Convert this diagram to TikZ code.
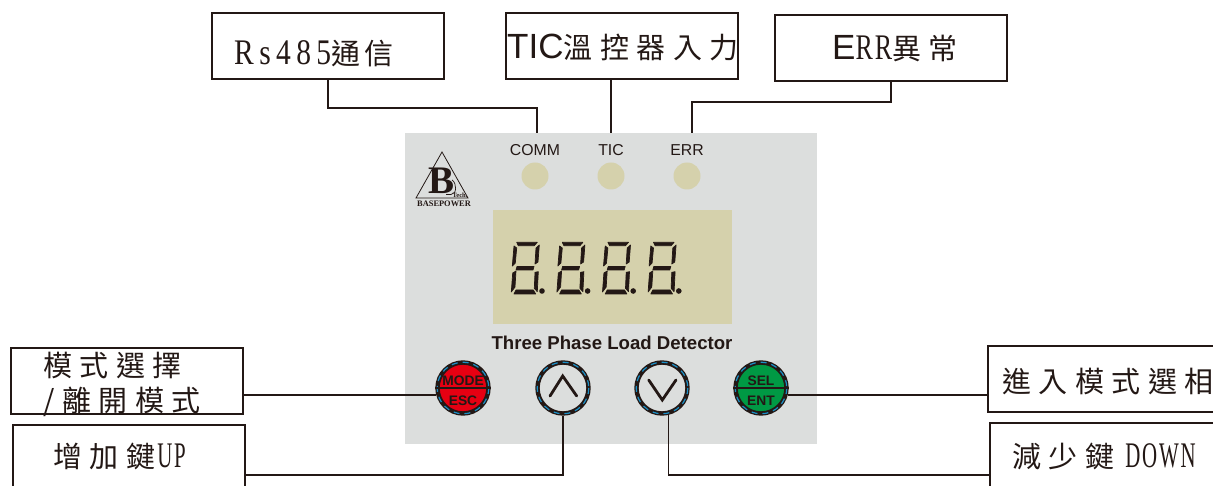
\documentclass[tikz,border=0pt]{standalone}
\usepackage{fontspec}
\setmainfont{Liberation Sans}
\newfontfamily\cjkfont[LetterSpace=26]{Noto Sans CJK TC}
\newfontfamily\cjktight[LetterSpace=15]{Noto Sans CJK TC}
\newfontfamily\latnfont[FakeStretch=0.82,LetterSpace=15]{Liberation Serif}
\newfontfamily\latnnarrow[FakeStretch=0.72,LetterSpace=6]{Liberation Serif}
\newfontfamily\latnthin[FakeStretch=0.58,LetterSpace=5]{Liberation Serif}
\newfontfamily\logofont{Liberation Serif}
\newcommand{\cjksize}{\fontsize{29}{30}\selectfont}
\newcommand{\latnsize}{\fontsize{36}{40}\selectfont}
\newcommand{\smallsize}{\fontsize{15.8}{18}\selectfont}
\definecolor{inkblack}{HTML}{231815}
\definecolor{panelgray}{HTML}{DCDEDD}
\definecolor{lcdyellow}{HTML}{D5D1AC}
\definecolor{btnred}{HTML}{E60012}
\definecolor{btngreen}{HTML}{009944}
\definecolor{rimblue}{HTML}{1B8FC6}
\tikzset{
    callout/.style={draw=inkblack, line width=1.3pt, fill=white, minimum width=232pt, minimum height=66pt, inner sep=0pt, outer sep=0pt},
    calltext/.style={anchor=base west, inner sep=0pt, text=inkblack},
    wire/.style={draw=inkblack, line width=1.4pt},
    ledlamp/.style={circle, fill=lcdyellow, minimum size=27pt, inner sep=0pt},
    ledtext/.style={inner sep=0pt, text=inkblack, font=\smallsize},
    button/.style={circle, draw=inkblack, line width=4.4pt, minimum size=51pt, inner sep=0pt, outer sep=2.2pt},
    rim/.style={draw=rimblue, line width=1.2pt, dash pattern=on 6pt off 5pt},
    btntext/.style={inner sep=0pt, text=inkblack, font=\bfseries\fontsize{13.8}{15}\selectfont},
    chevron/.style={draw=inkblack, line width=2.8pt, line cap=round, line join=miter},
    segment/.style={fill=inkblack, draw=inkblack, line width=0.7pt, line join=round}
}
\begin{document}
\begin{tikzpicture}[x=1pt, y=-1pt]
    \useasboundingbox (0,0) rectangle (1213,486);

    % panel and display
    \fill[panelgray] (405,133) rectangle (817,444);
    \fill[lcdyellow] (493,210) rectangle (732,324);

    % logo
    \draw[inkblack, line width=0.8pt] (442,152) -- (416,198) -- (468,198) -- cycle;
    \node[inner sep=0pt, text=inkblack] (logob) at (442,181) {\logofont\bfseries\fontsize{39}{40}\selectfont B};
    \draw[inkblack, line width=0.7pt] (446,194.5) -- (451,194.5) .. controls (457,194.5) and (457,183) .. (452,180);
    \node[inner sep=0pt, text=inkblack] (logotech) at (460,195) {\logofont\bfseries\fontsize{6.5}{7}\selectfont Tech.};
    \node[inner sep=0pt, text=inkblack] (logoname) at (444,204) {\logofont\bfseries\fontsize{8.4}{9}\selectfont BASEPOWER};

    % four digits
    \foreach \Shift in {0,45.6,91.2,136.8}{
        \begin{scope}[xshift=\Shift pt]
            \path[segment] (516.7,242.3) -- (537.3,242.3) -- (534.3,245.7) -- (518.3,245.7) -- cycle;
            \path[segment] (514,246) -- (516.7,248) -- (515.3,263) -- (512.3,266) -- cycle;
            \path[segment] (539.3,245) -- (538,262) -- (535,264) -- (536,248) -- cycle;
            \path[segment] (517,266.5) -- (534,266.5) -- (533,270) -- (516,270) -- cycle;
            \path[segment] (512.7,273) -- (516,271) -- (515,287) -- (511.3,292) -- cycle;
            \path[segment] (535,272.3) -- (538.3,271.7) -- (537.3,291.7) -- (534.3,288.3) -- cycle;
            \path[segment] (516,290) -- (533.3,290) -- (535.7,294) -- (514,294) -- cycle;
            \fill[inkblack] (542,291) circle (2.8);
        \end{scope}
    }

    % lamps
    \node[ledlamp] (ledcomm) at (535,176) {};
    \node[ledlamp] (ledtic) at (611,176) {};
    \node[ledlamp] (lederr) at (687,176) {};
    \node[ledtext] (txtcomm) at (535,150) {COMM};
    \node[ledtext] (txttic) at (611,150) {TIC};
    \node[ledtext] (txterr) at (687,150) {ERR};
    \node[inner sep=0pt, text=inkblack, font=\bfseries\fontsize{18.6}{20}\selectfont] (title) at (612,343) {Three Phase Load Detector};

    % buttons
    \node[button, fill=btnred] (btnmode) at (463,388) {};
    \node[button, fill=panelgray] (btnup) at (563,388) {};
    \node[button, fill=panelgray] (btndown) at (662,388) {};
    \node[button, fill=btngreen] (btnsel) at (761,388) {};
    \foreach \Name in {btnmode,btnup,btndown,btnsel}{
        \draw[rim] (\Name) circle (25.8);
    }
    \draw[inkblack, line width=1.1pt] (btnmode.west) -- (btnmode.east);
    \draw[inkblack, line width=1.1pt] (btnsel.west) -- (btnsel.east);
    \node[btntext] (txtmode) at (463,380.5) {MODE};
    \node[btntext] (txtesc) at (463,400.5) {ESC};
    \node[btntext] (txtsel) at (761,380.5) {SEL};
    \node[btntext] (txtent) at (761,400.5) {ENT};
    \draw[chevron] (550,396) -- (562.7,376) -- (576.7,396);
    \draw[chevron] (648.7,380) -- (662.3,400) -- (676,380);

    % boxes
    \node[callout] (boxcomm) at (328,46) {};
    \node[callout] (boxtic) at (622,46) {};
    \node[callout] (boxerr) at (891,48) {};
    \node[callout] (boxmode) at (127,381) {};
    \node[callout, minimum height=100pt] (boxup) at (129,475) {};
    \node[callout] (boxsel) at (1104,379) {};
    \node[callout, minimum height=104pt] (boxdown) at (1106,475) {};

    % box texts
    \node[calltext] (lblcomm) at (234,65) {\latnsize\latnfont Rs485\cjksize\cjktight 通信};
    \node[calltext] (lbltic) at (507,59) {\fontsize{35}{40}\selectfont TIC\cjksize\cjkfont 溫控器入力};
    \node[calltext] (lblerr) at (832,60) {\fontsize{35}{40}\selectfont E\latnsize\latnnarrow RR\cjksize\cjkfont 異常};
    \node[calltext] (lblmode) at (43,376) {\cjksize\cjkfont 模式選擇};
    \node[calltext] (lblesc) at (43,411) {\cjksize\cjkfont /離開模式};
    \node[calltext] (lblup) at (53,467) {\cjksize\cjkfont 增加鍵\hspace{2pt}\latnsize\latnthin UP};
    \node[calltext] (lblsel) at (1002,392) {\cjksize\cjkfont 進入模式選相};
    \node[calltext] (lbldown) at (1012,467) {\cjksize\cjkfont 減少鍵\hspace{11pt}\latnsize\latnthin DOWN};

    % connectors
    \coordinate (endcomm) at (537,133);
    \coordinate (endtic) at (611,133);
    \coordinate (enderr) at (692,133);
    \draw[wire] (boxcomm.south) -- ++(0,29) -| (endcomm);
    \draw[wire] (boxtic.south -| endtic) -- (endtic);
    \draw[wire] (boxerr.south) -- ++(0,21) -| (enderr);
    \draw[wire] (boxmode.east |- btnmode.195) -- (btnmode.195);
    \draw[wire] (btnsel.-15) -- (boxsel.west |- btnsel.-15);
    \draw[wire] (btnup.south) |- (boxup.east);
    \draw[wire] (btndown.-77) |- (boxdown.west);
\end{tikzpicture}
\end{document}
